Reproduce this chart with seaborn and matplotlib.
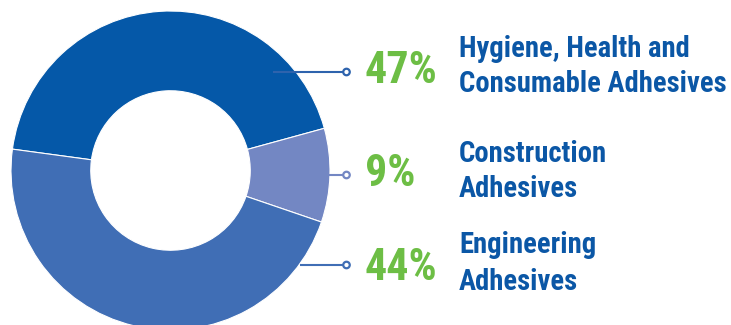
import matplotlib
matplotlib.use("Agg")
import matplotlib.pyplot as plt
import seaborn as sns

# ---- data ----
segments = [["Hygiene, Health and", "Consumable Adhesives"],
            ["Construction", "Adhesives"],
            ["Engineering", "Adhesives"]]
pct_labels = ["47%", "9%", "44%"]
# slice sizes as drawn in the picture (angular share, %)
slice_shares = [43.6, 9.5, 46.9]
slice_colors = ["#0558A8", "#7387C3", "#406EB5"]
line_colors = ["#2E63AD", "#7387C3", "#406EB5"]

sns.set_theme(style="white")
plt.rcParams["font.family"] = ["Roboto Condensed", "DejaVu Sans"]

W, H = 731, 325
fig = plt.figure(figsize=(W / 100, H / 100), dpi=100)
ax = fig.add_axes([0, 0, 1, 1])

cx, cy, R = 170.5, H - 170.5, 159.5
ax.pie(slice_shares, colors=slice_colors, startangle=172.3, counterclock=False,
       center=(cx, cy), radius=R,
       wedgeprops=dict(width=R * 0.5, edgecolor="white", linewidth=0.8))

# connectors
conn_y = [72, 175, 265]
conn_x0 = [273, 329, 300]
dot_x = 346.5
for y, x0, c in zip(conn_y, conn_x0, line_colors):
    ax.plot([x0, dot_x], [H - y, H - y], color=c, lw=1.5, solid_capstyle="butt", zorder=3)
sns.scatterplot(x=[dot_x] * 3, y=[H - y for y in conn_y], ax=ax, s=22,
                color="white", edgecolor=line_colors, linewidth=1.6, zorder=4, legend=False)

# percentages
pct_base = [83, 186, 280]
for t, y in zip(pct_labels, pct_base):
    ax.text(365, H - y, t, color="#6DBE45", fontsize=31.8, fontweight="bold",
            ha="left", va="baseline")

# segment names (two lines each)
name_base = [(56.7, 92), (162, 197), (253, 290)]
for lines, bases in zip(segments, name_base):
    for t, y in zip(lines, bases):
        ax.text(459, H - y, t, color="#0B57A6", fontsize=20.6, fontweight="bold",
                ha="left", va="baseline")

ax.set_xlim(0, W)
ax.set_ylim(0, H)
ax.set_aspect("equal")
ax.axis("off")
fig.savefig("out.png", dpi=100)
